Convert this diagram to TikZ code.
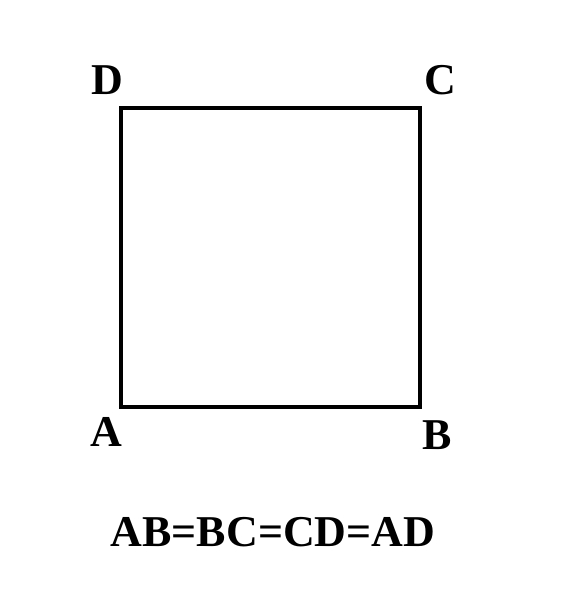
\documentclass[tikz,border=0pt]{standalone}
\usepackage{fontspec}
\setmainfont{Liberation Serif}
\begin{document}
\begin{tikzpicture}[x=1pt,y=1pt,
  lbl/.style={font=\fontsize{44}{44}\selectfont\bfseries, inner sep=0pt},
  side/.style={line width=4pt, line join=miter}]
\useasboundingbox (0,0) rectangle (572,600);
\coordinate (A) at (121,193);
\coordinate (B) at (420,193);
\coordinate (C) at (420,492);
\coordinate (D) at (121,492);
\draw[side] (A) -- (B) -- (C) -- (D) -- cycle;
\node[lbl] (la) at (106,168) {A};
\node[lbl] (lb) at (437,165) {B};
\node[lbl] (lc) at (440,520) {C};
\node[lbl] (ld) at (107,520) {D};
\node[lbl] (eq) at (273,68) {AB=BC=CD=AD};
\end{tikzpicture}
\end{document}
